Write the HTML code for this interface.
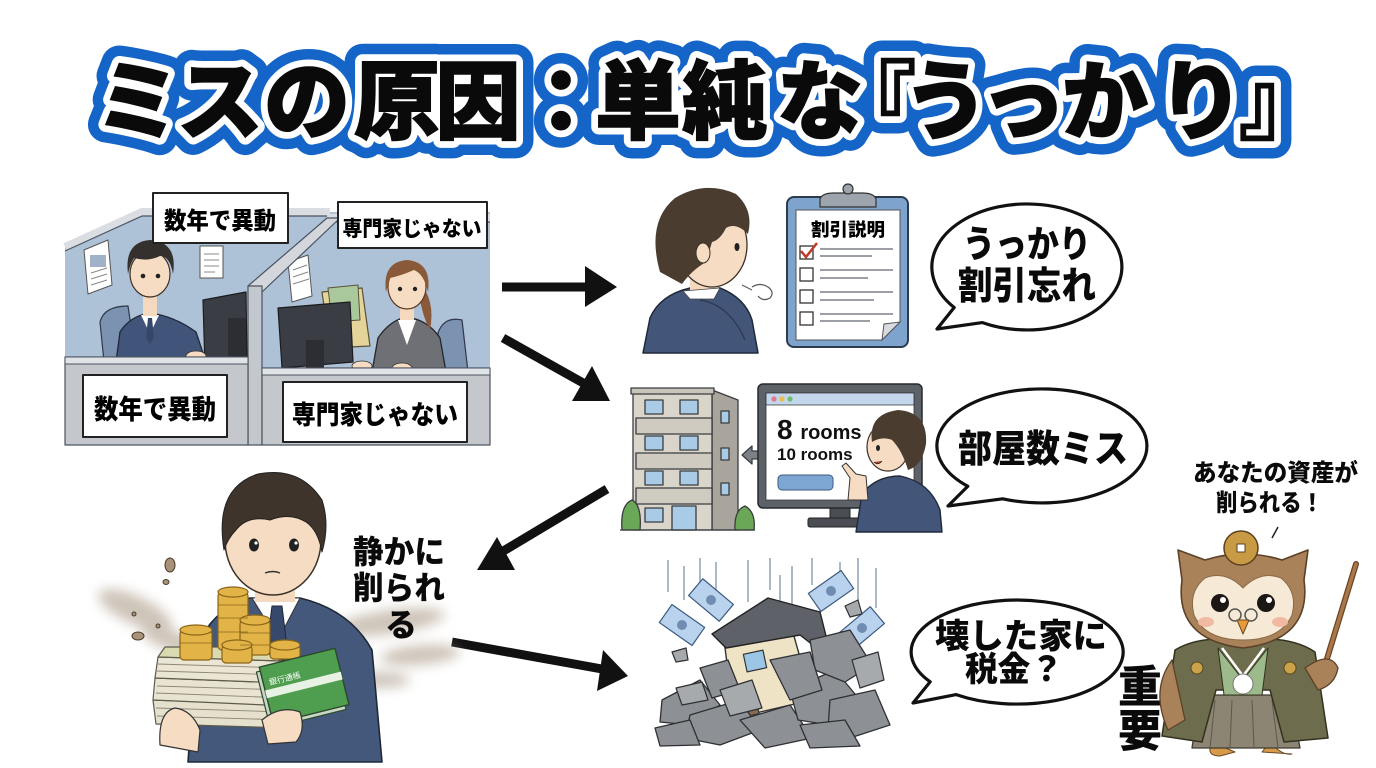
<!DOCTYPE html>
<html><head><meta charset="utf-8">
<style>
html,body{margin:0;padding:0;background:#fff;}
body{width:1376px;height:768px;overflow:hidden;}
svg{display:block;}
.jp{font-family:"Liberation Sans","Noto Sans CJK JP",sans-serif;font-weight:900;}
</style></head>
<body>
<svg width="1376" height="768" viewBox="0 0 1376 768" xmlns="http://www.w3.org/2000/svg">
<defs>
<filter id="blur6"><feGaussianBlur stdDeviation="6"/></filter>
<filter id="blur3"><feGaussianBlur stdDeviation="3"/></filter>
</defs>
<rect width="1376" height="768" fill="#fff"/>

<!-- ================= TITLE ================= -->
<g class="jp" font-size="86">
<text x="95 177 264 354 435 518 595 682 777 830 903 980 1062 1158 1239" y="132" fill="#1565c8" stroke="#1565c8" stroke-width="36" stroke-linejoin="round">ミスの原因：単純な『うっかり』</text>
<text x="95 177 264 354 435 518 595 682 777 830 903 980 1062 1158 1239" y="132" fill="#fff" stroke="#fff" stroke-width="15" stroke-linejoin="round">ミスの原因：単純な『うっかり』</text>
<text x="95 177 264 354 435 518 595 682 777 830 903 980 1062 1158 1239" y="132" fill="#0a0a0a" stroke="#0a0a0a" stroke-width="1.5">ミスの原因：単純な『うっかり』</text>
</g>

<!-- ================= OFFICE SCENE ================= -->
<g id="office" stroke-linejoin="round">
<polygon points="65,247 142,212 490,212 490,445 65,445" fill="#adc1d7"/>
<polyline points="65,247 142,212 330,212" fill="none" stroke="#dadee3" stroke-width="8"/>
<polyline points="65,251 142,216 330,216" fill="none" stroke="#4b5360" stroke-width="1.2"/>
<line x1="327" y1="218" x2="490" y2="218" stroke="#dadee3" stroke-width="8"/>
<line x1="327" y1="222" x2="490" y2="222" stroke="#4b5360" stroke-width="1.2"/>
<!-- posters -->
<polygon points="84,250 108,240 112,285 88,294" fill="#fff" stroke="#555" stroke-width="1"/>
<rect x="90" y="255" width="16" height="12" fill="#9fb2c8"/>
<line x1="91" y1="273" x2="107" y2="268" stroke="#888"/><line x1="91" y1="279" x2="107" y2="274" stroke="#888"/><line x1="91" y1="285" x2="107" y2="280" stroke="#888"/>
<rect x="200" y="246" width="23" height="32" fill="#fff" stroke="#555" stroke-width="1"/>
<line x1="204" y1="254" x2="219" y2="254" stroke="#888"/><line x1="204" y1="260" x2="219" y2="260" stroke="#888"/><line x1="204" y1="266" x2="219" y2="266" stroke="#888"/><line x1="204" y1="272" x2="215" y2="272" stroke="#888"/>
<polygon points="288,262 308,255 312,296 292,302" fill="#fff" stroke="#555" stroke-width="1"/>
<line x1="293" y1="270" x2="307" y2="265" stroke="#888"/><line x1="293" y1="277" x2="308" y2="272" stroke="#888"/><line x1="293" y1="284" x2="309" y2="279" stroke="#888"/>
<!-- center partition -->
<polygon points="248,286 327,218 340,218 262,292" fill="#d3d7dc" stroke="#4b5360" stroke-width="1.2"/>
<rect x="248" y="286" width="14" height="159" fill="#c3c8ce" stroke="#4b5360" stroke-width="1.2"/>
<!-- left chair -->
<path d="M100,322 Q104,306 128,306 L136,360 L104,362 Z" fill="#7c92b1" stroke="#2f3848" stroke-width="1.2"/>
<!-- left man -->
<path d="M116,362 L120,332 Q130,316 150,313 Q174,316 196,332 L206,362 Z" fill="#41557a" stroke="#1f2838" stroke-width="1.3"/>
<polygon points="141,315 150,334 159,315" fill="#fff"/>
<polygon points="148,318 152,318 154,338 150,344 146,338" fill="#35476a"/>
<rect x="143" y="290" width="14" height="26" fill="#f5d9bf"/>
<ellipse cx="150" cy="274" rx="20" ry="23" fill="#f6dcc3" stroke="#3b3128" stroke-width="1.2"/>
<path d="M128,274 Q124,242 150,240 Q178,242 173,274 Q170,256 160,256 Q148,262 134,258 Q130,264 128,274 Z" fill="#33302e"/>
<circle cx="143" cy="276" r="2.3" fill="#222"/><circle cx="158" cy="276" r="2.3" fill="#222"/>
<!-- left monitor -->
<polygon points="203,300 246,292 247,362 205,368" fill="#3a3d43" stroke="#1b1c1f" stroke-width="1.2"/>
<rect x="228" y="318" width="18" height="44" fill="#2c2e33"/>
<ellipse cx="196" cy="356" rx="10" ry="5" fill="#f6dcc3" stroke="#333" stroke-width="0.8"/>
<!-- folders -->
<polygon points="322,292 362,288 370,346 330,348" fill="#e5d49a" stroke="#5a5238" stroke-width="1.2"/>
<polygon points="328,288 358,285 360,320 332,322" fill="#a9c99c" stroke="#5a5238" stroke-width="1"/>
<!-- woman chair -->
<path d="M438,333 Q444,316 462,320 L468,372 L440,372 Z" fill="#7c92b1" stroke="#2f3848" stroke-width="1.2"/>
<!-- woman -->
<path d="M372,372 L378,338 Q390,320 407,317 Q428,320 440,338 L446,372 Z" fill="#6f7075" stroke="#25262a" stroke-width="1.3"/>
<polygon points="398,320 407,345 416,320" fill="#fff"/>
<rect x="400" y="296" width="14" height="24" fill="#f5d9bf"/>
<path d="M418,280 Q436,300 430,330 Q424,320 420,300 Z" fill="#8a593a"/>
<ellipse cx="407" cy="287" rx="19" ry="22" fill="#f6dcc3" stroke="#5c3a24" stroke-width="1.2"/>
<path d="M386,292 Q382,262 407,260 Q432,262 428,292 Q424,274 414,270 Q400,276 390,278 Z" fill="#8a593a"/>
<circle cx="400" cy="289" r="2.2" fill="#222"/><circle cx="415" cy="289" r="2.2" fill="#222"/>
<!-- woman monitor -->
<polygon points="278,308 350,302 353,362 282,368" fill="#3a3d43" stroke="#1b1c1f" stroke-width="1.2"/>
<rect x="306" y="340" width="18" height="30" fill="#2c2e33"/>
<ellipse cx="362" cy="366" rx="10" ry="5" fill="#f6dcc3" stroke="#333" stroke-width="0.8"/>
<ellipse cx="402" cy="368" rx="10" ry="5" fill="#f6dcc3" stroke="#333" stroke-width="0.8"/>
<!-- front partitions -->
<rect x="65" y="357" width="183" height="88" fill="#c4c8cd" stroke="#4b5360" stroke-width="1.2"/>
<rect x="65" y="357" width="183" height="7" fill="#e1e4e7" stroke="#4b5360" stroke-width="1"/>
<rect x="262" y="368" width="228" height="77" fill="#c4c8cd" stroke="#4b5360" stroke-width="1.2"/>
<rect x="262" y="368" width="228" height="7" fill="#e1e4e7" stroke="#4b5360" stroke-width="1"/>
<!-- labels -->
<rect x="153" y="193" width="135" height="50" fill="#fff" stroke="#222" stroke-width="2"/>
<text class="jp" x="220" y="229" font-size="24" text-anchor="middle" textLength="112" lengthAdjust="spacingAndGlyphs">数年で異動</text>
<rect x="338" y="202" width="149" height="46" fill="#fff" stroke="#222" stroke-width="2"/>
<text class="jp" x="412" y="236" font-size="21" text-anchor="middle" textLength="139" lengthAdjust="spacingAndGlyphs">専門家じゃない</text>
<rect x="83" y="375" width="144" height="62" fill="#fff" stroke="#222" stroke-width="2"/>
<text class="jp" x="155" y="419" font-size="27" text-anchor="middle" textLength="122" lengthAdjust="spacingAndGlyphs">数年で異動</text>
<rect x="283" y="382" width="184" height="60" fill="#fff" stroke="#222" stroke-width="2"/>
<text class="jp" x="375" y="424" font-size="26" text-anchor="middle" textLength="166" lengthAdjust="spacingAndGlyphs">専門家じゃない</text>
</g>

<!-- ================= ARROWS ================= -->
<g fill="#111" stroke="#111">
<line x1="502" y1="287" x2="590" y2="287" stroke-width="9"/>
<polygon points="585,266 617,287 585,307" stroke="none"/>
<line x1="503" y1="338" x2="585" y2="384" stroke-width="9"/>
<polygon points="610,401 572,401 592,366" stroke="none"/>
<line x1="607" y1="489" x2="500" y2="553" stroke-width="9"/>
<polygon points="477,570 497,537 515,570" stroke="none"/>
<line x1="452" y1="642" x2="602" y2="669" stroke-width="9"/>
<polygon points="628,676 603,650 597,691" stroke="none"/>
</g>

<!-- ================= PERSON 1 (back) ================= -->
<g stroke-linejoin="round">
<path d="M643,353 L650,318 Q660,295 690,288 L720,288 Q745,298 752,320 L758,353 Z" fill="#435679" stroke="#1f2a3a" stroke-width="1.5"/>
<path d="M700,300 Q730,305 745,340" fill="none" stroke="#2b3850" stroke-width="1.2"/>
<rect x="690" y="268" width="28" height="24" fill="#f5d9bf"/>
<polygon points="683,291 720,288 714,299 690,299" fill="#fff" stroke="#444" stroke-width="0.8"/>
<ellipse cx="712" cy="245" rx="35" ry="42" fill="#f6dcc3" stroke="#3b3128" stroke-width="1.3"/>
<path d="M660,272 Q646,222 675,198 Q705,180 736,194 Q754,210 748,234 Q736,222 726,228 Q720,240 712,242 L706,262 Q692,270 682,284 Z" fill="#4b3c30"/>
<ellipse cx="703" cy="253" rx="7" ry="10" fill="#f6dcc3" stroke="#3b3128" stroke-width="1"/>
<ellipse cx="737" cy="247" rx="2.5" ry="4" fill="#222"/>
<path d="M752,287 Q760,282 768,287 Q775,292 770,298 Q763,302 758,296" fill="none" stroke="#555" stroke-width="1.2"/>
<line x1="742" y1="285" x2="752" y2="290" stroke="#555" stroke-width="1"/>
</g>

<!-- ================= CLIPBOARD ================= -->
<g>
<rect x="787" y="197" width="121" height="150" rx="7" fill="#7ea4cd" stroke="#2d3b4f" stroke-width="2"/>
<path d="M796,210 L900,210 L900,322 L882,340 L796,340 Z" fill="#fff" stroke="#555" stroke-width="1"/>
<polygon points="882,340 900,322 884,324" fill="#d8dce2" stroke="#555" stroke-width="1"/>
<path d="M820,207 L820,199 Q822,193 834,193 L862,193 Q874,193 876,199 L876,207 Z" fill="#9ea4ac" stroke="#333" stroke-width="1.2"/>
<circle cx="848" cy="189" r="5" fill="#9ea4ac" stroke="#333" stroke-width="1.2"/>
<text class="jp" x="848" y="236" font-size="18" text-anchor="middle" textLength="74" lengthAdjust="spacingAndGlyphs" font-weight="700">割引説明</text>
<g fill="#fff" stroke="#333" stroke-width="1.3">
<rect x="800" y="246" width="13" height="13"/><rect x="800" y="268" width="13" height="13"/>
<rect x="800" y="290" width="13" height="13"/><rect x="800" y="312" width="13" height="13"/>
</g>
<polyline points="801,251 806,257 817,243" fill="none" stroke="#c0392b" stroke-width="2.5"/>
<g stroke="#7b8189" stroke-width="1.6">
<line x1="820" y1="249" x2="893" y2="249"/><line x1="820" y1="256" x2="872" y2="256"/>
<line x1="820" y1="270" x2="893" y2="270"/><line x1="820" y1="278" x2="868" y2="278"/>
<line x1="820" y1="292" x2="893" y2="292"/><line x1="820" y1="300" x2="874" y2="300"/>
<line x1="820" y1="314" x2="893" y2="314"/><line x1="820" y1="321" x2="870" y2="321"/>
</g>
</g>

<!-- ================= BUBBLES ================= -->
<g fill="#fff" stroke="#111" stroke-width="3.2" stroke-linejoin="round">
<path d="M982.4,322.6 A95,63 0 1 0 954.2,307.5 L937,329 Z"/>
<path d="M1002.7,498.8 A105,57 0 1 0 967.8,486.3 L948,506 Z"/>
<path d="M956.2,694.6 A106,52 0 1 0 930.2,681.8 L913,703 Z"/>
</g>
<g class="jp" fill="#0a0a0a" text-anchor="middle">
<text x="1027" y="257" font-size="37" textLength="128" lengthAdjust="spacingAndGlyphs">うっかり</text>
<text x="1027" y="299" font-size="38" textLength="138" lengthAdjust="spacingAndGlyphs">割引忘れ</text>
<text x="1043" y="462" font-size="38" textLength="170" lengthAdjust="spacingAndGlyphs">部屋数ミス</text>
<text x="1021" y="648" font-size="34" textLength="172" lengthAdjust="spacingAndGlyphs">壊した家に</text>
<text x="1014" y="681" font-size="34" textLength="98" lengthAdjust="spacingAndGlyphs">税金？</text>
</g>

<!-- ================= BUILDING ================= -->
<g stroke="#3a3c40" stroke-width="1.3" stroke-linejoin="round">
<polygon points="712,390 738,400 738,530 712,530" fill="#a9a59c"/>
<rect x="633" y="390" width="79" height="140" fill="#d9d5cb"/>
<rect x="631" y="388" width="83" height="6" fill="#c8c4ba"/>
<rect x="636" y="418" width="76" height="16" fill="#cfcbc1"/>
<rect x="636" y="453" width="76" height="16" fill="#cfcbc1"/>
<rect x="636" y="488" width="76" height="16" fill="#cfcbc1"/>
<g fill="#a9cbe6">
<rect x="645" y="400" width="18" height="14"/><rect x="680" y="400" width="18" height="14"/>
<rect x="645" y="436" width="18" height="14"/><rect x="680" y="436" width="18" height="14"/>
<rect x="645" y="471" width="18" height="14"/><rect x="680" y="471" width="18" height="14"/>
<rect x="645" y="508" width="18" height="14"/><rect x="672" y="506" width="24" height="24"/>
<rect x="721" y="411" width="8" height="12"/><rect x="721" y="448" width="8" height="12"/><rect x="721" y="483" width="8" height="12"/>
</g>
<path d="M622,530 Q620,505 632,500 Q642,505 640,530 Z" fill="#6aa857"/>
<path d="M735,530 Q734,510 745,506 Q756,512 754,530 Z" fill="#6aa857"/>
<line x1="620" y1="530" x2="755" y2="530"/>
<polygon points="742,455 752,446 752,451 762,451 762,459 752,459 752,464" fill="#7c8187"/>
</g>

<!-- ================= MONITOR 2 ================= -->
<g stroke-linejoin="round">
<rect x="830" y="506" width="20" height="14" fill="#4a4e54" stroke="#222" stroke-width="1"/>
<rect x="808" y="518" width="64" height="9" rx="2" fill="#4a4e54" stroke="#222" stroke-width="1"/>
<rect x="758" y="384" width="164" height="124" rx="5" fill="#5d6268" stroke="#26292d" stroke-width="1.5"/>
<rect x="766" y="393" width="148" height="107" fill="#fff" stroke="#333" stroke-width="0.8"/>
<rect x="766" y="393" width="148" height="12" fill="#c3d6ec" stroke="#333" stroke-width="0.8"/>
<circle cx="774" cy="399" r="2.6" fill="#e07a8a"/><circle cx="782" cy="399" r="2.6" fill="#e8c04a"/><circle cx="790" cy="399" r="2.6" fill="#6cbf6a"/>
<text x="777" y="439" font-family="Liberation Sans, sans-serif" font-weight="700" font-size="28" fill="#111">8 <tspan font-size="20">rooms</tspan></text>
<text x="777" y="460" font-family="Liberation Sans, sans-serif" font-weight="700" font-size="17" fill="#111">10 rooms</text>
<rect x="778" y="475" width="55" height="15" rx="4" fill="#7ea6d3" stroke="#3d5a80" stroke-width="1"/>
<!-- person 2 -->
<path d="M856,532 L862,494 Q876,476 900,476 Q930,482 940,510 L942,532 Z" fill="#435679" stroke="#1f2a3a" stroke-width="1.4"/>
<ellipse cx="888" cy="447" rx="21" ry="24" fill="#f6dcc3" stroke="#3b3128" stroke-width="1.2"/>
<path d="M872,442 Q868,414 898,410 Q928,412 926,444 Q922,466 908,470 Q902,450 892,440 Q882,436 872,442 Z" fill="#4b3c30"/>
<ellipse cx="878" cy="448" rx="2" ry="3" fill="#222"/>
<path d="M874,462 Q878,466 882,461" fill="#c0392b" stroke="#222" stroke-width="0.8"/>
<path d="M848,500 L850,478 L842,466 L846,463 L856,474 L866,476 L868,500 Z" fill="#f6dcc3" stroke="#333" stroke-width="1"/>
</g>

<!-- ================= MAN WITH MONEY ================= -->
<g stroke-linejoin="round">
<g filter="url(#blur6)" fill="#a69480" opacity="0.55">
<ellipse cx="135" cy="610" rx="40" ry="14" transform="rotate(25 135 610)"/>
<ellipse cx="170" cy="640" rx="30" ry="10" transform="rotate(20 170 640)"/>
<ellipse cx="390" cy="622" rx="55" ry="12" transform="rotate(-8 390 622)"/>
<ellipse cx="420" cy="655" rx="40" ry="10" transform="rotate(-5 420 655)"/>
<ellipse cx="380" cy="680" rx="30" ry="8"/>
</g>
<g fill="#a8927a" stroke="#4a3a2a" stroke-width="1">
<ellipse cx="170" cy="565" rx="5" ry="7"/><ellipse cx="166" cy="582" rx="3" ry="2.5"/><ellipse cx="138" cy="636" rx="6" ry="4"/><circle cx="158" cy="626" r="2"/><circle cx="134" cy="614" r="2"/>
</g>
<path d="M188,762 L196,650 Q210,610 250,598 L300,598 Q350,610 372,650 L382,762 Z" fill="#44587b" stroke="#1f2838" stroke-width="1.6"/>
<polygon points="252,598 278,640 300,598" fill="#fff" stroke="#333" stroke-width="1"/>
<polygon points="272,606 282,606 288,655 276,668 266,652" fill="#36496b" stroke="#1f2838" stroke-width="1"/>
<rect x="255" y="578" width="40" height="24" fill="#f5d9bf"/>
<ellipse cx="273" cy="540" rx="48" ry="55" fill="#f6dcc3" stroke="#3b3128" stroke-width="1.5"/>
<path d="M224,550 Q214,488 258,474 Q300,466 322,500 Q330,525 322,552 Q318,530 306,522 Q290,512 270,520 Q248,515 236,530 Q228,538 224,550 Z" fill="#3e342b" stroke="#222" stroke-width="1"/>
<ellipse cx="254" cy="545" rx="5" ry="6.5" fill="#222"/><ellipse cx="294" cy="545" rx="5" ry="6.5" fill="#222"/>
<circle cx="256" cy="543" r="1.6" fill="#fff"/><circle cx="296" cy="543" r="1.6" fill="#fff"/>
<path d="M265,573 Q273,570 280,573" fill="none" stroke="#333" stroke-width="1.4"/>
<!-- money stacks -->
<g stroke="#5e5a4c" stroke-width="1.2">
<polygon points="153,700 282,705 288,728 156,724" fill="#e6e1cd"/>
<polygon points="155,678 285,683 288,706 153,700" fill="#e9e4d1"/>
<polygon points="158,657 282,661 285,683 155,678" fill="#ebe6d3"/>
<polygon points="165,647 255,647 282,661 158,657" fill="#dad9b0"/>
</g>
<g stroke="#8c8775" stroke-width="0.9">
<line x1="158" y1="664" x2="283" y2="668"/><line x1="157" y1="671" x2="284" y2="675"/><line x1="157" y1="686" x2="286" y2="690"/><line x1="156" y1="693" x2="287" y2="698"/><line x1="156" y1="708" x2="284" y2="712"/><line x1="157" y1="716" x2="286" y2="720"/>
</g>
<g fill="#e2b448" stroke="#8a6418" stroke-width="1.2">
<rect x="180" y="630" width="32" height="30" rx="4"/><ellipse cx="196" cy="630" rx="16" ry="5"/>
<rect x="218" y="592" width="30" height="58" rx="4"/><ellipse cx="233" cy="592" rx="15" ry="5"/>
<rect x="240" y="620" width="30" height="35" rx="4"/><ellipse cx="255" cy="620" rx="15" ry="5"/>
<rect x="222" y="645" width="30" height="18" rx="4"/><ellipse cx="237" cy="645" rx="15" ry="5"/>
<rect x="270" y="645" width="30" height="14" rx="4"/><ellipse cx="285" cy="645" rx="15" ry="5"/>
</g>
<g stroke="#8a6418" stroke-width="0.8"><line x1="218" y1="605" x2="248" y2="605"/><line x1="218" y1="618" x2="248" y2="618"/><line x1="218" y1="632" x2="248" y2="632"/><line x1="180" y1="643" x2="212" y2="643"/><line x1="240" y1="633" x2="270" y2="633"/><line x1="240" y1="645" x2="270" y2="645"/></g>
<g transform="rotate(-14 300 690)">
<rect x="262" y="662" width="78" height="58" fill="#c9d6c7" stroke="#2b4a2b" stroke-width="1.2"/>
<rect x="266" y="658" width="78" height="58" fill="#4f9d4f" stroke="#2b4a2b" stroke-width="1.4"/>
<rect x="266" y="682" width="78" height="8" fill="#e8f2e4"/>
<text x="272" y="678" font-family="Liberation Sans, 'Noto Sans CJK JP', sans-serif" font-size="8" fill="#fff">銀行通帳</text>
</g>
<path d="M160,745 Q158,712 175,708 Q192,710 200,730 L198,752 Z" fill="#f6dcc3" stroke="#333" stroke-width="1.2"/>
<path d="M262,720 Q280,705 300,712 Q306,730 296,742 L268,744 Z" fill="#f6dcc3" stroke="#333" stroke-width="1.2"/>
</g>
<g class="jp" fill="#0a0a0a" font-size="32">
<text x="353" y="563" textLength="92" lengthAdjust="spacingAndGlyphs">静かに</text>
<text x="353" y="599" textLength="92" lengthAdjust="spacingAndGlyphs">削られ</text>
<text x="385" y="636">る</text>
</g>

<!-- ================= RUBBLE HOUSE ================= -->
<g stroke-linejoin="round">
<g stroke="#8fa0b2" stroke-width="1.5">
<line x1="668" y1="560" x2="668" y2="592"/><line x1="684" y1="566" x2="684" y2="600"/><line x1="700" y1="558" x2="700" y2="586"/><line x1="716" y1="562" x2="716" y2="612"/><line x1="748" y1="560" x2="748" y2="602"/><line x1="770" y1="558" x2="770" y2="590"/><line x1="792" y1="566" x2="792" y2="618"/><line x1="812" y1="558" x2="812" y2="585"/><line x1="840" y1="562" x2="840" y2="590"/><line x1="858" y1="558" x2="858" y2="600"/><line x1="876" y1="568" x2="876" y2="608"/><line x1="780" y1="575" x2="780" y2="612"/>
</g>
<g fill="#b9d3ef" stroke="#3d5a80" stroke-width="1.2">
<rect x="-20" y="-11" width="40" height="22" transform="translate(682,625) rotate(35)"/>
<rect x="-20" y="-11" width="40" height="22" transform="translate(711,600) rotate(40)"/>
<rect x="-20" y="-11" width="40" height="22" transform="translate(831,591) rotate(-35)"/>
<rect x="-20" y="-11" width="40" height="22" transform="translate(862,628) rotate(-40)"/>
</g>
<g fill="#6f8db0"><circle cx="682" cy="625" r="5"/><circle cx="711" cy="600" r="5"/><circle cx="831" cy="591" r="5"/><circle cx="862" cy="628" r="5"/></g>
<polygon points="724,640 790,622 812,700 734,718" fill="#efe3c6" stroke="#333" stroke-width="1.4"/>
<polygon points="712,634 768,598 820,612 832,660 800,635 726,648" fill="#5e6268" stroke="#222" stroke-width="1.4"/>
<rect x="745" y="652" width="20" height="18" fill="#9cc6e6" stroke="#333" stroke-width="1.2" transform="rotate(-12 755 661)"/>
<rect x="737" y="694" width="20" height="22" fill="#8a6a52" stroke="#333" stroke-width="1.2" transform="rotate(-12 747 705)"/>
<g fill="#8d9094" stroke="#2e3033" stroke-width="1.3">
<polygon points="662,700 700,680 720,705 690,725 660,722"/>
<polygon points="690,715 740,700 760,730 720,745 685,738"/>
<polygon points="740,720 790,705 812,738 765,748"/>
<polygon points="790,690 835,670 860,700 830,725 798,720"/>
<polygon points="810,640 850,630 872,665 845,682 815,670"/>
<polygon points="830,700 875,690 890,725 850,738 828,728"/>
<polygon points="800,725 845,720 860,746 810,748"/>
<polygon points="700,668 728,660 740,690 712,698"/>
<polygon points="770,660 810,652 822,690 790,700"/>
<polygon points="655,728 690,720 700,745 660,746"/>
</g>
<g fill="#a7aaad" stroke="#2e3033" stroke-width="1.2">
<polygon points="720,690 752,680 762,708 730,716"/>
<polygon points="852,660 878,652 884,680 860,688"/>
<polygon points="676,688 702,682 708,700 682,705"/>
<polygon points="845,606 858,600 862,614 850,617"/>
<polygon points="672,652 686,648 688,660 676,662"/>
</g>
</g>

<!-- ================= 重要 ================= -->
<g class="jp" fill="#0a0a0a" font-size="44" text-anchor="middle">
<text x="1140" y="702">重</text>
<text x="1140" y="746">要</text>
</g>

<!-- ================= OWL ================= -->
<g class="jp" fill="#0a0a0a" font-size="24">
<text x="1193" y="481" textLength="165" lengthAdjust="spacingAndGlyphs">あなたの資産が</text>
<text x="1216" y="511" textLength="107" lengthAdjust="spacingAndGlyphs">削られる！</text>
</g>
<line x1="1272" y1="538" x2="1278" y2="527" stroke="#222" stroke-width="1.5"/>
<g stroke-linejoin="round">
<line x1="1322" y1="675" x2="1356" y2="564" stroke="#6b4524" stroke-width="6" stroke-linecap="round"/>
<line x1="1322" y1="675" x2="1356" y2="564" stroke="#a9774a" stroke-width="3.5" stroke-linecap="round"/>
<!-- feet -->
<path d="M1212,742 Q1205,756 1220,756 L1235,752 Z" fill="#d69a4a" stroke="#6b4a24" stroke-width="1"/>
<path d="M1270,742 Q1282,756 1292,754 L1262,752 Z" fill="#d69a4a" stroke="#6b4a24" stroke-width="1"/>
<!-- hakama -->
<path d="M1200,695 L1290,695 L1300,748 L1192,748 Z" fill="#8c8574" stroke="#3f3a2e" stroke-width="1.3"/>
<g stroke="#5e584a" stroke-width="1"><line x1="1215" y1="700" x2="1210" y2="748"/><line x1="1232" y1="700" x2="1230" y2="748"/><line x1="1252" y1="700" x2="1254" y2="748"/><line x1="1272" y1="700" x2="1278" y2="748"/></g>
<!-- haori -->
<path d="M1175,650 Q1200,635 1243,640 Q1290,635 1315,652 L1328,738 L1284,742 L1270,690 L1216,690 L1202,742 L1162,736 Z" fill="#6d6c4c" stroke="#33321f" stroke-width="1.5"/>
<polygon points="1218,648 1243,680 1268,648 1262,695 1224,695" fill="#9dba8c" stroke="#33321f" stroke-width="1"/>
<polyline points="1222,648 1243,676 1264,648" fill="none" stroke="#fff" stroke-width="2.5"/>
<circle cx="1243" cy="684" r="10" fill="#fff" stroke="#777" stroke-width="1"/>
<circle cx="1197" cy="668" r="6" fill="#c9a24a" stroke="#5a4a20" stroke-width="1"/>
<circle cx="1290" cy="668" r="6" fill="#c9a24a" stroke="#5a4a20" stroke-width="1"/>
<!-- wings -->
<path d="M1172,660 Q1150,690 1168,730 L1185,720 Z" fill="#a9825a" stroke="#5c4128" stroke-width="1.3"/>
<path d="M1305,668 Q1330,650 1338,668 Q1335,685 1318,690 Z" fill="#a9825a" stroke="#5c4128" stroke-width="1.3"/>
<!-- head -->
<path d="M1182,580 L1178,550 L1205,560 Q1243,548 1282,560 L1308,550 L1304,580 Q1312,640 1243,648 Q1174,640 1182,580 Z" fill="#a9825a" stroke="#5c4128" stroke-width="1.6"/>
<path d="M1243,588 Q1225,570 1205,578 Q1188,592 1194,615 Q1205,640 1243,640 Q1281,640 1292,615 Q1298,592 1281,578 Q1261,570 1243,588 Z" fill="#f6ead6" stroke="#8a6a48" stroke-width="1"/>
<circle cx="1220" cy="603" r="9" fill="#1c1614"/><circle cx="1266" cy="603" r="9" fill="#1c1614"/>
<circle cx="1223" cy="600" r="3" fill="#fff"/><circle cx="1269" cy="600" r="3" fill="#fff"/>
<ellipse cx="1206" cy="622" rx="8" ry="5" fill="#f2b9a2"/><ellipse cx="1280" cy="622" rx="8" ry="5" fill="#f2b9a2"/>
<circle cx="1235" cy="615" r="6" fill="none" stroke="#555" stroke-width="1.5"/><circle cx="1251" cy="615" r="6" fill="none" stroke="#555" stroke-width="1.5"/>
<polygon points="1237,620 1249,620 1243,634" fill="#e69a3a" stroke="#6b4a24" stroke-width="1"/>
<circle cx="1241" cy="548" r="17" fill="#c99a44" stroke="#5a4220" stroke-width="1.5"/>
<rect x="1237" y="544" width="8" height="8" fill="#fff" stroke="#5a4220" stroke-width="1"/>
</g>
</svg>
</body></html>
